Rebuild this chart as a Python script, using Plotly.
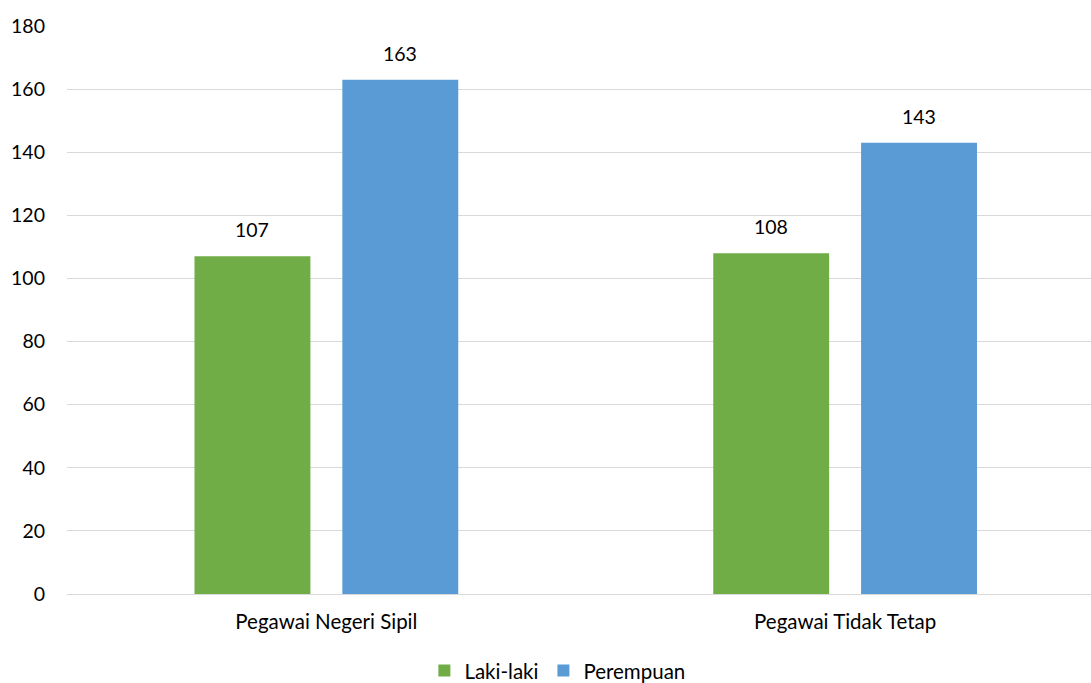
import plotly.graph_objects as go

categories = ["Pegawai Negeri Sipil", "Pegawai Tidak Tetap"]
laki = [107, 108]
perempuan = [163, 143]
series_names = ["Laki-laki", "Perempuan"]
y_ticks = [0, 20, 40, 60, 80, 100, 120, 140, 160, 180]

green = "#70AD47"
blue = "#5B9BD5"
font = "Lato, Calibri, sans-serif"

fig = go.Figure()
fig.add_trace(go.Bar(x=categories, y=laki, name=series_names[0], marker_color=green,
                     marker_line_width=0))
fig.add_trace(go.Bar(x=categories, y=perempuan, name=series_names[1], marker_color=blue,
                     marker_line_width=0))

annotations = []
for vals, shift in ((laki, -74), (perempuan, 74)):
    for c, v in zip(categories, vals):
        annotations.append(dict(x=c, y=v, text=str(v), showarrow=False, xshift=shift,
                                yanchor="bottom", yshift=13,
                                font=dict(family=font, size=19.5, color="#000000")))

fig.update_layout(
    width=1091, height=683,
    margin=dict(l=67, r=0, t=26, b=89, autoexpand=False),
    paper_bgcolor="white", plot_bgcolor="white",
    barmode="group", bargap=0.43, bargroupgap=0.216,
    font=dict(family=font, size=20, color="#000000"),
    annotations=annotations,
    legend=dict(orientation="h", x=0.349, xanchor="left", y=-0.135, yanchor="middle",
                font=dict(family=font, size=20.5), itemwidth=30, tracegroupgap=0,
                traceorder="normal"),
    xaxis=dict(type="category", range=[-0.5, 1.474], showgrid=False, showline=False,
               ticks="", ticklabelstandoff=13, automargin=False,
               tickfont=dict(family=font, size=20.5)),
    yaxis=dict(range=[0, 180], tickvals=y_ticks, showgrid=True, gridcolor="#D9D9D9",
               gridwidth=1, zeroline=True, zerolinecolor="#D9D9D9", zerolinewidth=1,
               showline=False, ticks="", ticklabelstandoff=21, automargin=False,
               tickfont=dict(family=font, size=19.5)),
)

fig.write_html("out.html", config={"displayModeBar": False},
               post_script="document.body.style.margin='0';document.body.style.overflow='hidden';")
